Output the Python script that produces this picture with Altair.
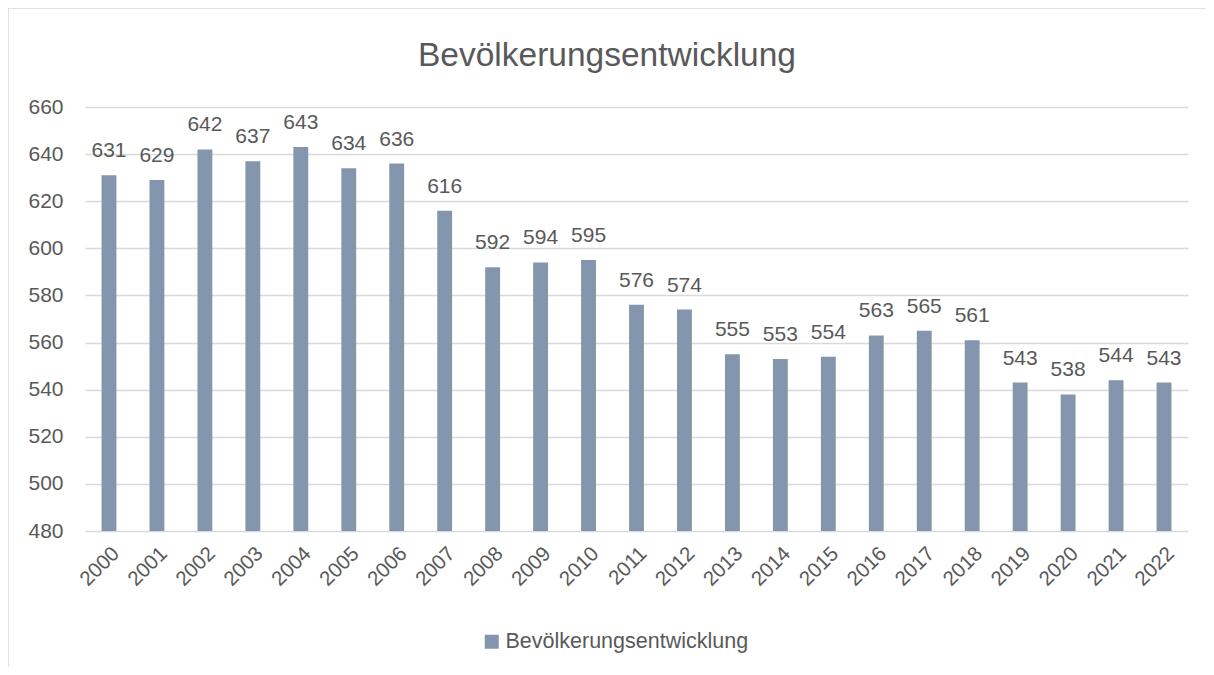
import altair as alt
import pandas as pd

years = [str(y) for y in range(2000, 2023)]
values = [631, 629, 642, 637, 643, 634, 636, 616, 592, 594, 595, 576, 574,
          555, 553, 554, 563, 565, 561, 543, 538, 544, 543]
series_name = "Bevölkerungsentwicklung"
chart_title = "Bevölkerungsentwicklung"
y_ticks = [480, 500, 520, 540, 560, 580, 600, 620, 640, 660]

FONT = "Liberation Sans, Arial, sans-serif"
TXT = "#595959"
BAR = "#8396AE"
GRID = "#d9d9d9"

df = pd.DataFrame({"year": years, "value": values, "series": series_name})

W, H = 1103, 424

x = alt.X("year:N", sort=years, title=None,
          scale=alt.Scale(paddingInner=0.69, paddingOuter=0.345),
          axis=alt.Axis(labelAngle=-45, labelFontSize=20.5, labelColor=TXT, labelFont=FONT,
                        domain=False, ticks=False, labelPadding=12, grid=False))
y = alt.Y("value:Q", title=None,
          scale=alt.Scale(domain=[480, 660], zero=False, nice=False),
          axis=alt.Axis(values=y_ticks, labelFontSize=21, labelColor=TXT, labelFont=FONT,
                        domain=False, ticks=False, labelPadding=22, grid=True,
                        gridColor=GRID, gridWidth=1.5))

bars = alt.Chart(df).mark_bar(color=BAR).encode(
    x=x, y=y, y2=alt.datum(480),
    color=alt.Color("series:N", scale=alt.Scale(range=[BAR]),
                    legend=alt.Legend(title=None, orient="none", legendX=396, legendY=524,
                                      symbolType="square", symbolSize=196, symbolStrokeWidth=0,
                                      labelFontSize=21.5, labelFont=FONT, labelColor=TXT,
                                      labelOffset=3, labelLimit=0))
)

labels = alt.Chart(df).mark_text(dy=-18, baseline="alphabetic", fontSize=21,
                                 font=FONT, color=TXT).encode(
    x=alt.X("year:N", sort=years), y="value:Q", text="value:Q"
)

title_df = pd.DataFrame({"t": [chart_title]})
title = alt.Chart(title_df).mark_text(fontSize=33.5, font=FONT, color=TXT,
                                      baseline="alphabetic", align="center").encode(
    x=alt.value(522), y=alt.value(-41), text="t:N"
)

frame_df = pd.DataFrame({"a": [0]})
frame = alt.Chart(frame_df).mark_rect(fill=None, stroke=GRID, strokeWidth=1.5, clip=False).encode(
    x=alt.value(-77), x2=alt.value(W + 200), y=alt.value(-99), y2=alt.value(H + 300)
)

chart = alt.layer(frame, bars, labels, title).properties(
    width=W, height=H,
    autosize=alt.AutoSizeParams(type="none"),
    padding={"left": 77, "top": 99, "right": 18, "bottom": 136},
).configure_view(stroke=None)

chart.save("out.html", embed_options={"renderer": "svg", "actions": False})
